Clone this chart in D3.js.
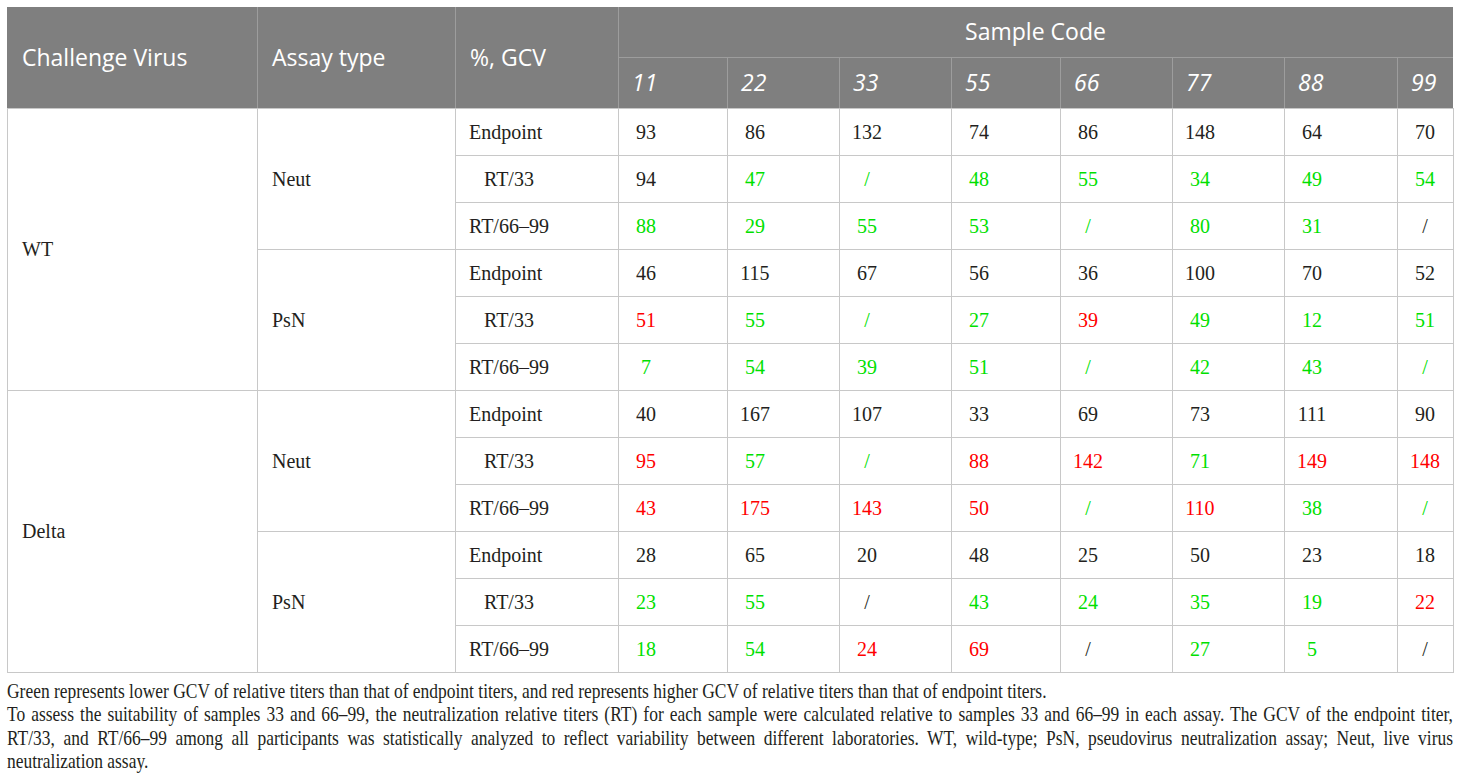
<!DOCTYPE html>
<html>
<head>
<meta charset="utf-8">
<script src="https://cdn.jsdelivr.net/npm/d3@7"></script>
<style>
  html, body { margin: 0; padding: 0; background: #fff; }
  svg { display: block; }
</style>
</head>
<body>
<script>
// ── Table data ────────────────────────────────────────────────────────────
const sampleCodes = ["11", "22", "33", "55", "66", "77", "88", "99"];
const viruses  = ["WT", "Delta"];
const assays   = ["Neut", "PsN"];
const measures = ["Endpoint", "RT/33", "RT/66–99"];

// %GCV per row (virus × assay × measure), one entry per sample code
const gcvValues = [
  ["93", "86", "132", "74", "86", "148", "64", "70"],
  ["94", "47", "/",   "48", "55", "34",  "49", "54"],
  ["88", "29", "55",  "53", "/",  "80",  "31", "/"],
  ["46", "115", "67", "56", "36", "100", "70", "52"],
  ["51", "55", "/",   "27", "39", "49",  "12", "51"],
  ["7",  "54", "39",  "51", "/",  "42",  "43", "/"],
  ["40", "167", "107", "33", "69", "73", "111", "90"],
  ["95", "57", "/",   "88", "142", "71", "149", "148"],
  ["43", "175", "143", "50", "/", "110", "38", "/"],
  ["28", "65", "20",  "48", "25", "50",  "23", "18"],
  ["23", "55", "/",   "43", "24", "35",  "19", "22"],
  ["18", "54", "24",  "69", "/",  "27",  "5",  "/"]
];
// k = plain, g = lower GCV than endpoint, r = higher GCV than endpoint
const gcvFlags = [
  ["k", "k", "k", "k", "k", "k", "k", "k"],
  ["k", "g", "g", "g", "g", "g", "g", "g"],
  ["g", "g", "g", "g", "g", "g", "g", "k"],
  ["k", "k", "k", "k", "k", "k", "k", "k"],
  ["r", "g", "g", "g", "r", "g", "g", "g"],
  ["g", "g", "g", "g", "g", "g", "g", "g"],
  ["k", "k", "k", "k", "k", "k", "k", "k"],
  ["r", "g", "g", "r", "r", "g", "r", "r"],
  ["r", "r", "r", "r", "g", "r", "g", "g"],
  ["k", "k", "k", "k", "k", "k", "k", "k"],
  ["g", "g", "k", "g", "g", "g", "g", "r"],
  ["g", "g", "r", "r", "k", "g", "g", "k"]
];

const footnoteLines = [
  "Green represents lower GCV of relative titers than that of endpoint titers, and red represents higher GCV of relative titers than that of endpoint titers.",
  "To assess the suitability of samples 33 and 66–99, the neutralization relative titers (RT) for each sample were calculated relative to samples 33 and 66–99 in each assay. The GCV of the endpoint titer,",
  "RT/33, and RT/66–99 among all participants was statistically analyzed to reflect variability between different laboratories. WT, wild-type; PsN, pseudovirus neutralization assay; Neut, live virus",
  "neutralization assay."
];

// ── Layout ────────────────────────────────────────────────────────────────
const W = 1460, H = 781;
const colW  = [250, 198, 163, 109, 112, 112, 109, 112, 112, 113, 56];
const edges = Array.from(d3.cumsum([7, ...colW]));   // 12 x-edges
const LEFT = edges[0], RIGHT = edges[edges.length - 1];
const TOP = 7, HEAD_MID = 57, HEAD_BOT = 108, BODY_BOT = 672;

const SANS  = "'Open Sans', 'Noto Sans', sans-serif";
const SERIF = "'Liberation Serif', 'Times New Roman', serif";
const colour = { k: "#231f20", g: "#00e000", r: "#ff0000" };
const HEAD_BG = "#7f7f7f", HEAD_LINE = "#9d9d9d", GRID = "#c8c8c8";

const nRows = viruses.length * assays.length * measures.length;
const y = d3.scaleBand().domain(d3.range(nRows)).range([HEAD_BOT, BODY_BOT]);
const xSample = d3.scaleOrdinal().domain(sampleCodes).range(edges.slice(3, 11));
const wSample = d3.scaleOrdinal().domain(sampleCodes).range(colW.slice(3));

const svg = d3.select("body").append("svg")
  .attr("width", W).attr("height", H)
  .attr("viewBox", `0 0 ${W} ${H}`);

svg.append("rect").attr("width", W).attr("height", H).attr("fill", "#fff");

// ── Header ────────────────────────────────────────────────────────────────
const head = svg.append("g").attr("class", "head");
head.append("rect")
  .attr("x", LEFT).attr("y", TOP)
  .attr("width", RIGHT - LEFT).attr("height", HEAD_BOT - TOP)
  .attr("fill", HEAD_BG);

// header rules
head.selectAll("line.hv")
  .data(edges.slice(1, 4))
  .join("line").attr("class", "hv")
  .attr("x1", d => d + 0.5).attr("x2", d => d + 0.5)
  .attr("y1", TOP).attr("y2", HEAD_BOT)
  .attr("stroke", HEAD_LINE);
head.append("line")
  .attr("x1", edges[3]).attr("x2", RIGHT)
  .attr("y1", HEAD_MID + 0.5).attr("y2", HEAD_MID + 0.5)
  .attr("stroke", HEAD_LINE);
head.selectAll("line.hs")
  .data(sampleCodes.slice(1))
  .join("line").attr("class", "hs")
  .attr("x1", d => xSample(d) + 0.5).attr("x2", d => xSample(d) + 0.5)
  .attr("y1", HEAD_MID).attr("y2", HEAD_BOT)
  .attr("stroke", HEAD_LINE);

const headCols = ["Challenge Virus", "Assay type", "%, GCV"];
head.selectAll("text.hc")
  .data(headCols)
  .join("text").attr("class", "hc")
  .attr("x", (d, i) => edges[i] + 15)
  .attr("y", (TOP + HEAD_BOT) / 2 + 8)
  .attr("font-family", SANS).attr("font-size", 23)
  .attr("fill", "#fff")
  .text(d => d);

head.append("text")
  .attr("x", (edges[3] + RIGHT) / 2)
  .attr("y", (TOP + HEAD_MID) / 2 + 8)
  .attr("text-anchor", "middle")
  .attr("font-family", SANS).attr("font-size", 23)
  .attr("fill", "#fff")
  .text("Sample Code");

head.selectAll("text.code")
  .data(sampleCodes)
  .join("text").attr("class", "code")
  .attr("x", d => xSample(d) + 14)
  .attr("y", (HEAD_MID + HEAD_BOT) / 2 + 8)
  .attr("font-family", SANS).attr("font-size", 23)
  .attr("font-style", "italic")
  .attr("fill", "#fff")
  .text(d => d);

// ── Body grid ─────────────────────────────────────────────────────────────
const body = svg.append("g").attr("class", "body");
const bw = y.bandwidth();
const perVirus = assays.length * measures.length;

// merged virus cells
body.selectAll("rect.vir")
  .data(viruses)
  .join("rect").attr("class", "vir")
  .attr("x", LEFT + 0.5).attr("y", (d, i) => y(i * perVirus) + 0.5)
  .attr("width", colW[0]).attr("height", bw * perVirus)
  .attr("fill", "none").attr("stroke", GRID);

// merged assay cells
const assayCells = viruses.flatMap((v, i) => assays.map((a, j) => ({ label: a, row: i * perVirus + j * measures.length })));
body.selectAll("rect.assay")
  .data(assayCells)
  .join("rect").attr("class", "assay")
  .attr("x", edges[1] + 0.5).attr("y", d => y(d.row) + 0.5)
  .attr("width", colW[1]).attr("height", bw * measures.length)
  .attr("fill", "none").attr("stroke", GRID);

// measure + value cells
const rowCells = d3.range(nRows).map(r => ({ row: r, measure: measures[r % measures.length] }));
body.selectAll("rect.meas")
  .data(rowCells)
  .join("rect").attr("class", "meas")
  .attr("x", edges[2] + 0.5).attr("y", d => y(d.row) + 0.5)
  .attr("width", colW[2]).attr("height", bw)
  .attr("fill", "none").attr("stroke", GRID);

const valueCells = gcvValues.flatMap((vals, r) => vals.map((v, c) => ({
  row: r, code: sampleCodes[c], text: v, flag: gcvFlags[r][c]
})));
body.selectAll("rect.val")
  .data(valueCells)
  .join("rect").attr("class", "val")
  .attr("x", d => xSample(d.code) + 0.5).attr("y", d => y(d.row) + 0.5)
  .attr("width", d => wSample(d.code)).attr("height", bw)
  .attr("fill", "none").attr("stroke", GRID);

// ── Body text ─────────────────────────────────────────────────────────────
const TXT_DY = 7;
body.selectAll("text.vir")
  .data(viruses)
  .join("text").attr("class", "vir")
  .attr("x", LEFT + 15)
  .attr("y", (d, i) => y(i * perVirus) + bw * perVirus / 2 + TXT_DY)
  .attr("font-family", SERIF).attr("font-size", 20)
  .attr("fill", colour.k)
  .text(d => d);

body.selectAll("text.assay")
  .data(assayCells)
  .join("text").attr("class", "assay")
  .attr("x", edges[1] + 15)
  .attr("y", d => y(d.row) + bw * measures.length / 2 + TXT_DY)
  .attr("font-family", SERIF).attr("font-size", 20)
  .attr("fill", colour.k)
  .text(d => d.label);

body.selectAll("text.meas")
  .data(rowCells)
  .join("text").attr("class", "meas")
  .attr("x", d => edges[2] + (d.measure === "RT/33" ? 29 : 14))
  .attr("y", d => y(d.row) + bw / 2 + TXT_DY)
  .attr("font-family", SERIF).attr("font-size", 20)
  .attr("fill", colour.k)
  .text(d => d.measure);

body.selectAll("text.val")
  .data(valueCells)
  .join("text").attr("class", "val")
  .attr("x", d => xSample(d.code) + 28)
  .attr("y", d => y(d.row) + bw / 2 + TXT_DY)
  .attr("text-anchor", "middle")
  .attr("font-family", SERIF).attr("font-size", 20)
  .attr("fill", d => colour[d.flag])
  .text(d => d.text);

// ── Footnote ──────────────────────────────────────────────────────────────
const FN_SIZE = 20, FN_LINE = 23.5, FN_BASE = 698;
const LINE1_W = 1040;
const foot = svg.append("g").attr("class", "foot");
const fnText = foot.selectAll("text")
  .data(footnoteLines)
  .join("text")
  .attr("x", 0)
  .attr("y", (d, i) => FN_BASE + i * FN_LINE)
  .attr("font-family", SERIF).attr("font-size", FN_SIZE)
  .attr("fill", colour.k)
  .text(d => d);

// Condense to match the original face, then justify the middle lines
const sx = LINE1_W / fnText.nodes()[0].getComputedTextLength();
foot.attr("transform", `translate(${LEFT},0) scale(${sx},1)`);
fnText.each(function (d, i) {
  if (i === 0 || i === footnoteLines.length - 1) return;
  const natural = this.getComputedTextLength();
  const gaps = (d.match(/ /g) || []).length;
  const extra = ((RIGHT - LEFT) / sx - natural) / gaps;
  d3.select(this).style("word-spacing", extra + "px");
});
</script>
</body>
</html>
